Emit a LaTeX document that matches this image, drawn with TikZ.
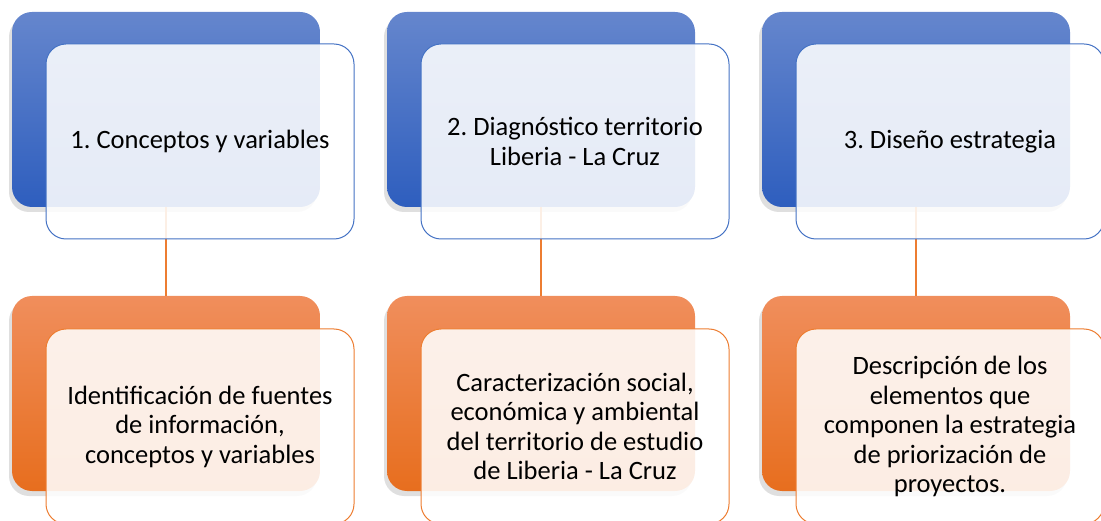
\documentclass[tikz,border=0pt]{standalone}
\usepackage{fontspec}
\setmainfont{Carlito}
\frenchspacing
\usetikzlibrary{shadows}
\definecolor{blueTop}{RGB}{101,134,205}
\definecolor{blueBot}{RGB}{46,94,190}
\definecolor{blueLine}{RGB}{68,114,196}
\definecolor{orTop}{RGB}{240,142,92}
\definecolor{orBot}{RGB}{231,110,30}
\definecolor{orLine}{RGB}{237,125,49}
\tikzset{
  backbox/.style={rectangle, rounded corners=20pt, minimum width=308pt, minimum height=195pt, inner sep=0pt,
    drop shadow={shadow xshift=-3pt, shadow yshift=-5pt, opacity=0.25}},
  bluebox/.style={backbox, top color=blueTop, bottom color=blueBot, draw=none},
  orangebox/.style={backbox, top color=orTop, bottom color=orBot, draw=none},
  frontbox/.style={rectangle, rounded corners=20pt, minimum width=308pt, minimum height=195pt, inner sep=4pt,
    fill=white, fill opacity=0.88, text opacity=1, line width=1pt, align=center, text=black,
    font=\fontsize{26.5}{29.5}\selectfont},
  bluefront/.style={frontbox, draw=blueLine},
  orangefront/.style={frontbox, draw=orLine},
  link/.style={draw=orLine, line width=2.5pt}
}
\begin{document}
\begin{tikzpicture}[x=1pt,y=-1pt]
\useasboundingbox (0,0) rectangle (1101,521);
% column 1
\node[bluebox] (b1) at (166,109.5) {};
\node[orangebox] (o1) at (166,393.5) {};
\draw[link] (b1.south) -- (o1.north);
\node[bluefront] (f1) at (200,141.5) {1. Conceptos y variables};
\node[orangefront] (g1) at (200,426.5) {Identificación de fuentes\\de información,\\conceptos y variables};
% column 2
\node[bluebox] (b2) at (541,109.5) {};
\node[orangebox] (o2) at (541,393.5) {};
\draw[link] (b2.south) -- (o2.north);
\node[bluefront] (f2) at (575,141.5) {2. Diagnóstico territorio\\Liberia - La Cruz};
\node[orangefront] (g2) at (575,426.5) {Caracterización social,\\económica y ambiental\\del territorio de estudio\\de Liberia - La Cruz};
% column 3
\node[bluebox] (b3) at (916,109.5) {};
\node[orangebox] (o3) at (916,393.5) {};
\draw[link] (b3.south) -- (o3.north);
\node[bluefront] (f3) at (950,141.5) {3. Diseño estrategia};
\node[orangefront] (g3) at (950,426.5) {Descripción de los\\elementos que\\componen la estrategia\\de priorización de\\proyectos.};
\end{tikzpicture}
\end{document}
